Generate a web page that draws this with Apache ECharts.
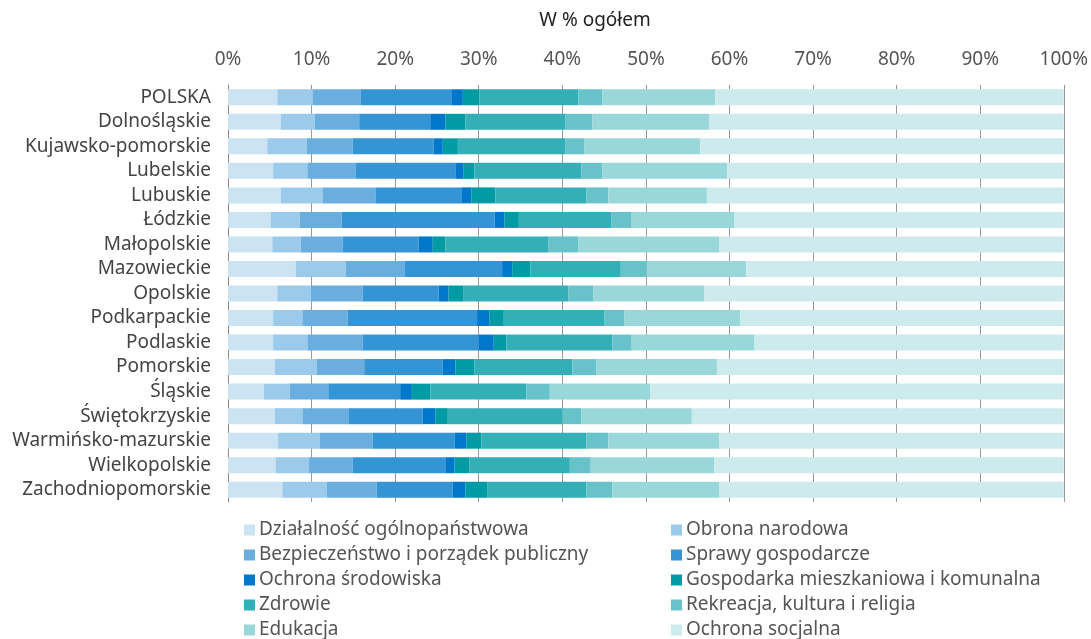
<!DOCTYPE html>
<html>
<head>
<meta charset="utf-8">
<script src="https://cdn.jsdelivr.net/npm/echarts@6/dist/echarts.min.js"></script>
<style>
  html, body { margin: 0; padding: 0; background: #fff; }
  #chart { width: 1091px; height: 639px; }
</style>
</head>
<body>
<div id="chart"></div>
<script>
const regions = ['POLSKA', 'Dolnośląskie', 'Kujawsko-pomorskie', 'Lubelskie', 'Lubuskie', 'Łódzkie',
  'Małopolskie', 'Mazowieckie', 'Opolskie', 'Podkarpackie', 'Podlaskie', 'Pomorskie', 'Śląskie',
  'Świętokrzyskie', 'Warmińsko-mazurskie', 'Wielkopolskie', 'Zachodniopomorskie']

const seriesNames = ['Działalność ogólnopaństwowa', 'Obrona narodowa', 'Bezpieczeństwo i porządek publiczny',
  'Sprawy gospodarcze', 'Ochrona środowiska', 'Gospodarka mieszkaniowa i komunalna', 'Zdrowie',
  'Rekreacja, kultura i religia', 'Edukacja', 'Ochrona socjalna']

// one array per spending area, in region order
const dzialalnosc = [5.9, 6.3, 4.7, 5.4, 6.3, 5.1, 5.3, 8.1, 5.9, 5.4, 5.4, 5.6, 4.3, 5.6, 6.0, 5.7, 6.5]
const obrona = [4.2, 4.1, 4.7, 4.1, 5.0, 3.5, 3.4, 6.0, 4.0, 3.5, 4.1, 5.0, 3.1, 3.3, 5.0, 4.0, 5.3]
const bezpieczenstwo = [5.8, 5.3, 5.5, 5.8, 6.4, 5.0, 5.0, 7.0, 6.2, 5.4, 6.6, 5.7, 4.6, 5.5, 6.3, 5.2, 6.0]
const sprawyGosp = [10.9, 8.5, 9.7, 11.9, 10.3, 18.3, 9.1, 11.7, 9.1, 15.5, 13.9, 9.4, 8.6, 8.9, 9.8, 11.1, 9.1]
const srodowisko = [1.3, 1.8, 1.1, 1.0, 1.1, 1.2, 1.7, 1.2, 1.2, 1.5, 1.8, 1.5, 1.4, 1.5, 1.4, 1.1, 1.5]
const gospodarkaMieszk = [2.0, 2.4, 1.8, 1.3, 2.9, 1.7, 1.5, 2.2, 1.8, 1.7, 1.5, 2.3, 2.2, 1.5, 1.8, 1.8, 2.6]
const zdrowie = [11.8, 12.0, 12.9, 12.8, 10.9, 11.1, 12.3, 10.8, 12.5, 12.0, 12.7, 11.7, 11.5, 13.7, 12.6, 12.0, 11.9]
const rekreacja = [2.9, 3.2, 2.2, 2.5, 2.6, 2.4, 3.6, 3.1, 3.0, 2.4, 2.3, 2.9, 2.8, 2.3, 2.6, 2.5, 3.1]
const edukacja = [13.5, 14.0, 13.9, 14.9, 11.8, 12.3, 16.9, 11.9, 13.3, 13.9, 14.7, 14.4, 12.0, 13.2, 13.3, 14.8, 12.8]
const socjalna = [41.7, 42.4, 43.5, 40.3, 42.7, 39.4, 41.2, 38.0, 43.0, 38.7, 37.0, 41.5, 49.5, 44.5, 41.2, 41.8, 41.2]

const xTicks = [0, 10, 20, 30, 40, 50, 60, 70, 80, 90, 100]

const values = [dzialalnosc, obrona, bezpieczenstwo, sprawyGosp, srodowisko, gospodarkaMieszk,
  zdrowie, rekreacja, edukacja, socjalna]
const colors = ['#cce3f3', '#9ccaea', '#69aedf', '#3595d4', '#0077c8', '#009ba4',
  '#34afb8', '#67c3c9', '#9ad7da', '#cdebec']

const font = 'Noto Sans'

const chart = echarts.init(document.getElementById('chart'), null, { renderer: 'canvas' })

const legendBase = {
  orient: 'vertical',
  top: 520,
  height: 130,
  padding: 0,
  icon: 'rect',
  itemWidth: 11,
  itemHeight: 11,
  itemGap: 5,
  selectedMode: false,
  textStyle: { fontFamily: font, fontSize: 19, color: '#555', lineHeight: 20, padding: [0, 0, 0, -1] }
}

chart.setOption({
  animation: false,
  color: colors,
  title: {
    text: 'W % ogółem',
    left: 590,
    textAlign: 'center',
    top: 6,
    textStyle: { fontFamily: font, fontSize: 19, fontWeight: 'normal', color: '#222' }
  },
  legend: [
    Object.assign({}, legendBase, { left: 244, data: seriesNames.filter((n, i) => i % 2 === 0) }),
    Object.assign({}, legendBase, { left: 671, data: seriesNames.filter((n, i) => i % 2 === 1) })
  ],
  grid: { left: 228, right: 26, top: 85, bottom: 137, containLabel: false },
  xAxis: {
    type: 'value',
    position: 'top',
    min: xTicks[0],
    max: xTicks[xTicks.length - 1],
    interval: 10,
    axisLine: { show: false },
    axisTick: { show: false },
    splitLine: { show: true, lineStyle: { color: '#999', width: 1 } },
    axisLabel: {
      formatter: '{value}%',
      margin: 16,
      fontFamily: font,
      fontSize: 19,
      color: '#555'
    }
  },
  yAxis: {
    type: 'category',
    inverse: true,
    data: regions,
    axisLine: { show: true, lineStyle: { color: '#888' } },
    axisTick: { show: false },
    axisLabel: { interval: 0, margin: 17, fontFamily: font, fontSize: 19, color: '#444' }
  },
  series: values.map((arr, i) => ({
    name: seriesNames[i],
    type: 'bar',
    stack: 'total',
    barWidth: 16,
    data: arr,
    itemStyle: { color: colors[i] }
  }))
})
</script>
</body>
</html>
